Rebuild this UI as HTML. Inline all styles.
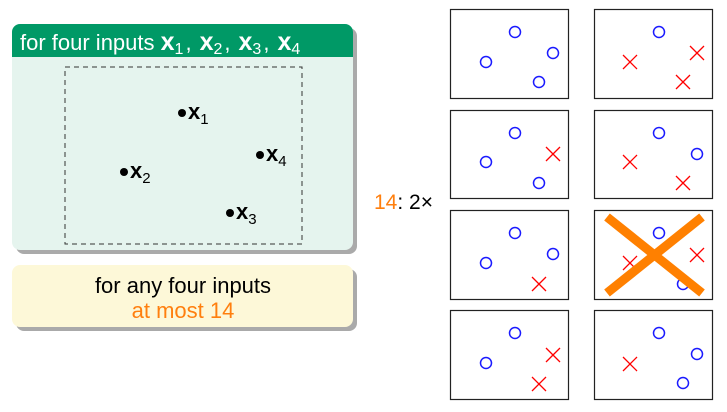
<!DOCTYPE html><html><head><style>body{margin:0;width:727px;height:407px;background:#fff;overflow:hidden}</style></head><body>
<svg width="727" height="407" xmlns="http://www.w3.org/2000/svg" font-family="Liberation Sans, sans-serif">
<rect x="16" y="28" width="341" height="226" rx="8" fill="#aaa"/>
<rect x="12" y="24" width="341" height="226" rx="8" fill="#e5f4ee"/>
<path d="M12 57 V32 a8 8 0 0 1 8 -8 H345 a8 8 0 0 1 8 8 V57 Z" fill="#009966"/>
<text x="20" y="50" font-size="22" fill="#fff">for four inputs <tspan font-weight="bold" font-size="25">x</tspan><tspan font-size="16" dy="4">1</tspan><tspan dy="-4" dx="2">,</tspan><tspan font-weight="bold" font-size="25" dx="8">x</tspan><tspan font-size="16" dy="4">2</tspan><tspan dy="-4" dx="2">,</tspan><tspan font-weight="bold" font-size="25" dx="8">x</tspan><tspan font-size="16" dy="4">3</tspan><tspan dy="-4" dx="2">,</tspan><tspan font-weight="bold" font-size="25" dx="8">x</tspan><tspan font-size="16" dy="4">4</tspan></text>
<rect x="65" y="67" width="237" height="177" fill="none" stroke="#333" stroke-dasharray="5,4"/>
<g font-size="22"><circle cx="182" cy="113" r="4"/><text x="188" y="119" font-weight="bold">x<tspan font-size="15" font-weight="normal" dy="5">1</tspan></text>
<circle cx="124" cy="172" r="4"/><text x="130" y="178" font-weight="bold">x<tspan font-size="15" font-weight="normal" dy="5">2</tspan></text>
<circle cx="230" cy="213" r="4"/><text x="236" y="219" font-weight="bold">x<tspan font-size="15" font-weight="normal" dy="5">3</tspan></text>
<circle cx="260" cy="155" r="4"/><text x="266" y="161" font-weight="bold">x<tspan font-size="15" font-weight="normal" dy="5">4</tspan></text></g>
<rect x="16" y="269" width="341" height="62" rx="8" fill="#aaa"/>
<rect x="12" y="265" width="341" height="62" rx="8" fill="#fdf8d8"/>
<text x="183" y="293" font-size="22" text-anchor="middle">for any four inputs</text>
<text x="183" y="318" font-size="22" text-anchor="middle" fill="#ff7f0e">at most 14</text>
<text x="374" y="209" font-size="21"><tspan fill="#ff7f0e">14</tspan>: 2×</text>
<defs>
<g id="o"><circle r="5.5" fill="none" stroke="#1a1aff" stroke-width="1.5"/></g>
<g id="x"><path d="M-7 -7L7 7M7 -7L-7 7" stroke="#f00" stroke-width="1.3"/></g>
</defs>
<g fill="none" stroke="#222" stroke-width="1.2">
<rect x="450.5" y="9.5" width="118" height="89"/><rect x="594.5" y="9.5" width="118" height="89"/>
<rect x="450.5" y="110.5" width="118" height="88"/><rect x="594.5" y="110.5" width="118" height="88"/>
<rect x="450.5" y="210.5" width="118" height="89"/><rect x="594.5" y="210.5" width="118" height="89"/>
<rect x="450.5" y="310.5" width="118" height="89"/><rect x="594.5" y="310.5" width="118" height="89"/>
</g>
<use href="#o" x="515" y="32"/><use href="#o" x="486" y="62"/><use href="#o" x="553" y="53"/><use href="#o" x="539" y="82"/>
<use href="#o" x="659" y="32"/><use href="#x" x="630" y="62"/><use href="#x" x="697" y="53"/><use href="#x" x="683" y="82"/>
<use href="#o" x="515" y="133"/><use href="#o" x="486" y="162"/><use href="#x" x="553" y="154"/><use href="#o" x="539" y="183"/>
<use href="#o" x="659" y="133"/><use href="#x" x="630" y="162"/><use href="#o" x="697" y="154"/><use href="#x" x="683" y="183"/>
<use href="#o" x="515" y="233"/><use href="#o" x="486" y="263"/><use href="#o" x="553" y="254"/><use href="#x" x="539" y="284"/>
<use href="#o" x="659" y="233"/><use href="#x" x="630" y="263"/><use href="#x" x="697" y="255"/><use href="#o" x="683" y="284"/>
<use href="#o" x="515" y="333"/><use href="#o" x="486" y="363"/><use href="#x" x="553" y="355"/><use href="#x" x="539" y="384"/>
<use href="#o" x="659" y="333"/><use href="#x" x="630" y="364"/><use href="#o" x="697" y="354"/><use href="#o" x="683" y="383"/>
<path d="M607 217L702 293M702 217L607 293" stroke="#ff8000" stroke-width="9"/>
</svg></body></html>
